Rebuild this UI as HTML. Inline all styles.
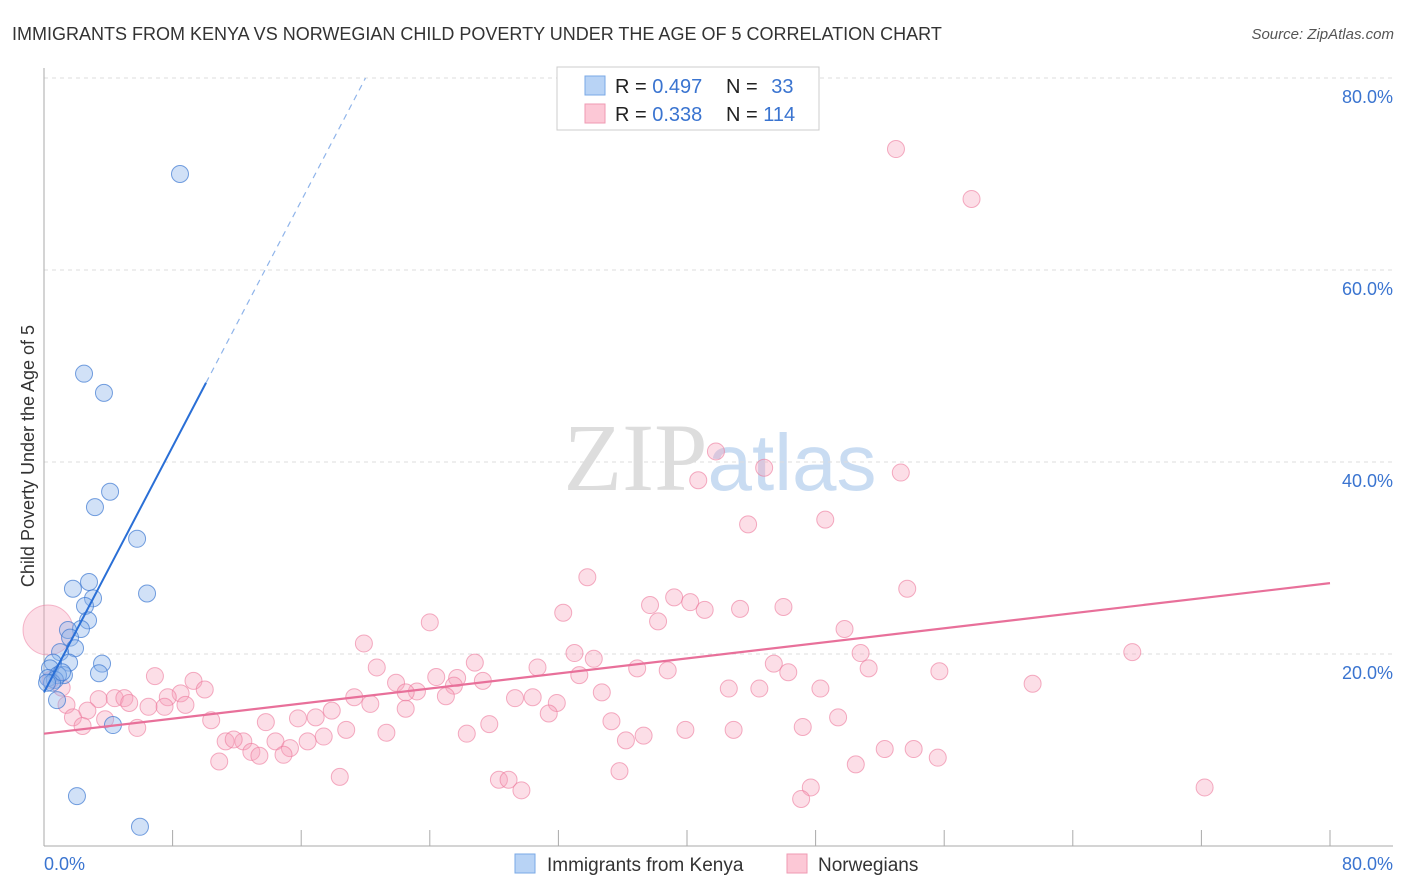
<!DOCTYPE html>
<html><head><meta charset="utf-8"><style>
body{margin:0;background:#fff;font-family:"Liberation Sans",sans-serif}
svg{display:block}
</style></head><body>
<svg id="chart" width="1406" height="892">
<text x="12" y="40" font-size="18" fill="#333">IMMIGRANTS FROM KENYA VS NORWEGIAN CHILD POVERTY UNDER THE AGE OF 5 CORRELATION CHART</text>
<text x="1394" y="39" font-size="15" fill="#555" text-anchor="end" font-style="italic">Source: ZipAtlas.com</text>
<text x="720" y="490" font-size="96" fill="#ddd" text-anchor="middle" font-family="Liberation Serif,serif">ZIP<tspan fill="#c9dcf2" font-family="Liberation Sans,sans-serif" font-size="80">atlas</tspan></text>
<g id="grid"></g>
<g id="axes"></g>
<g id="pts"></g>
<g id="trends"></g>
<text transform="translate(34,456) rotate(-90)" font-size="18" fill="#333" text-anchor="middle">Child Poverty Under the Age of 5</text>
<g>
<rect x="557" y="67" width="262" height="63" fill="#fff" stroke="#ccc"/>
<rect x="585" y="76" width="20" height="19" fill="#b8d3f5" stroke="#7aa8e6"/>
<rect x="585" y="104" width="20" height="19" fill="#fcc8d6" stroke="#ef9ab3"/>
<text x="615" y="93" font-size="20" fill="#222">R = <tspan fill="#3a74d0">0.497</tspan></text>
<text x="726" y="93" font-size="20" fill="#222">N = <tspan fill="#3a74d0" dx="8">33</tspan></text>
<text x="615" y="121" font-size="20" fill="#222">R = <tspan fill="#3a74d0">0.338</tspan></text>
<text x="726" y="121" font-size="20" fill="#222">N = <tspan fill="#3a74d0">114</tspan></text>
</g>
<g>
<rect x="515" y="854" width="20" height="19" fill="#b8d3f5" stroke="#7aa8e6"/>
<text x="547" y="871" font-size="19" fill="#333">Immigrants from Kenya</text>
<rect x="787" y="854" width="20" height="19" fill="#fcc8d6" stroke="#ef9ab3"/>
<text x="818" y="871" font-size="19" fill="#333">Norwegians</text>
</g>
</svg>
<script>
const yTicks=[20,40,60,80];
const yTickLabels=["20.0%","40.0%","60.0%","80.0%"];
const xTickLabels=["0.0%","80.0%"];
const blueX=[8.46,2.49,3.73,4.11,3.17,5.79,6.41,1.80,2.80,3.05,2.55,2.74,2.30,1.49,1.62,1.93,1.00,1.56,3.61,3.42,0.56,0.37,1.24,0.87,0.25,0.68,0.50,0.81,4.29,2.05,5.97,0.19,1.12];
const blueY=[70.0,49.2,47.2,36.9,35.3,32.0,26.3,26.8,27.5,25.8,25.0,23.5,22.6,22.5,21.7,20.6,20.2,19.1,19.0,18.0,19.1,18.5,17.8,17.8,17.5,17.3,17.0,15.2,12.6,5.2,2.0,17.0,18.1];
const pinkX=[53.0,57.7,41.8,44.8,53.3,40.7,43.8,48.6,33.8,53.7,39.2,40.2,37.7,46.0,43.3,32.3,41.1,24.0,38.2,49.8,19.9,50.8,33.0,34.2,45.4,51.3,36.9,38.8,30.7,46.3,55.7,20.7,26.8,6.9,9.3,24.4,25.7,21.9,27.3,33.3,67.7,61.5,42.6,44.5,48.3,34.7,25.5,23.2,22.5,8.5,10.0,3.4,4.4,5.0,19.3,25.0,30.4,29.3,31.9,20.3,7.7,8.8,7.5,6.5,5.3,2.7,1.4,1.1,0.4,1.8,3.8,2.4,5.8,10.4,13.8,15.8,16.9,17.9,22.5,31.4,49.4,35.3,27.7,18.8,21.3,39.9,47.2,42.9,26.3,37.3,36.2,17.4,12.4,11.3,11.8,14.4,16.4,15.3,12.9,14.9,13.4,10.9,52.3,54.1,50.5,55.6,18.4,28.3,28.9,29.7,35.8,47.7,47.1,72.2];
const pinkY=[72.6,67.4,41.1,39.4,38.9,38.1,33.5,34.0,28.0,26.8,25.9,25.4,25.1,24.9,24.7,24.3,24.6,23.3,23.4,22.6,21.1,20.1,20.1,19.5,19.0,18.5,18.5,18.3,18.6,18.1,18.2,18.6,19.1,17.7,17.2,17.6,17.5,17.0,17.2,17.8,20.2,16.9,16.4,16.4,16.4,16.0,16.7,16.1,16.0,15.9,16.3,15.3,15.4,15.4,15.5,15.6,15.5,15.4,14.9,14.8,15.5,14.7,14.5,14.5,14.9,14.1,14.7,16.5,17.3,13.4,13.2,12.5,12.3,13.1,12.9,13.3,13.4,14.1,14.3,13.8,13.4,13.0,12.7,12.1,11.8,12.1,12.4,12.1,11.7,11.5,11.0,11.4,10.9,10.9,11.1,10.9,10.9,10.2,9.8,9.5,9.4,8.8,10.1,10.1,8.5,9.2,7.2,6.9,6.9,5.8,7.8,6.1,4.9,6.1];
const bigPink=[0.25,22.5];
const blueTrend=[16.0,3.2];
const pinkTrend=[11.7,0.196];
const NS="http://www.w3.org/2000/svg";
const X0=44,X1=1330,Y0=846,Y1=78;
const sx=v=>X0+(X1-X0)*v/80, sy=v=>Y0-(Y0-Y1)*v/80;
function mk(tag,attrs,parent){const e=document.createElementNS(NS,tag);for(const k in attrs)e.setAttribute(k,attrs[k]);parent.appendChild(e);return e;}
const grid=document.getElementById('grid'),axes=document.getElementById('axes'),pts=document.getElementById('pts'),tr=document.getElementById('trends');
yTicks.forEach((t,i)=>{
 const l=mk('line',{x1:X0,x2:1393,y1:sy(t),y2:sy(t),stroke:'#ddd','stroke-dasharray':'4,4'},grid);
 
 
 const tx=mk('text',{x:1393,y:sy(t)+25,'font-size':18,fill:'#3a74d0','text-anchor':'end'},grid);
 tx.textContent=yTickLabels[i];
 
 
});
const ya=mk('line',{x1:X0,x2:X0,y1:68,y2:Y0,stroke:'#aaa'},axes);


const xa=mk('line',{x1:X0,x2:1393,y1:Y0,y2:Y0,stroke:'#aaa'},axes);


for(let v=0;v<=80;v+=8){
 const t=mk('line',{x1:sx(v),x2:sx(v),y1:Y0-16,y2:Y0,stroke:'#aaa'},axes);
 
 
}
[[0,'start',44],[80,'end',1393]].forEach(([v,a,x],i)=>{
 const tx=mk('text',{x:x,y:870,'font-size':18,fill:'#3a74d0','text-anchor':a},axes);
 tx.textContent=xTickLabels[i];
 
 
});
const bp=mk('circle',{cx:sx(bigPink[0]),cy:sy(bigPink[1]),r:25,fill:'rgba(247,160,185,0.35)',stroke:'rgba(236,120,155,0.5)'},pts);


pinkX.forEach((x,i)=>{
 const c=mk('circle',{cx:sx(x),cy:sy(pinkY[i]),r:8.5,fill:'rgba(247,160,185,0.35)',stroke:'rgba(236,120,155,0.6)'},pts);
 
 
});
blueX.forEach((x,i)=>{
 const c=mk('circle',{cx:sx(x),cy:sy(blueY[i]),r:8.5,fill:'rgba(140,180,235,0.4)',stroke:'rgba(60,120,210,0.7)'},pts);
 
 
});
const bEnd=10.08, bDash=(80-blueTrend[0])/blueTrend[1];
const b1=mk('line',{x1:sx(0),y1:sy(blueTrend[0]),x2:sx(bEnd),y2:sy(blueTrend[0]+blueTrend[1]*bEnd),stroke:'#2a6fd6','stroke-width':2},tr);


const b2=mk('line',{x1:sx(bEnd),y1:sy(blueTrend[0]+blueTrend[1]*bEnd),x2:sx(bDash),y2:sy(80),stroke:'#8fb4ea','stroke-width':1.2,'stroke-dasharray':'6,5'},tr);


const p1=mk('line',{x1:sx(0),y1:sy(pinkTrend[0]),x2:sx(80),y2:sy(pinkTrend[0]+pinkTrend[1]*80),stroke:'#e8709a','stroke-width':2.2},tr);


</script>
</body></html>
